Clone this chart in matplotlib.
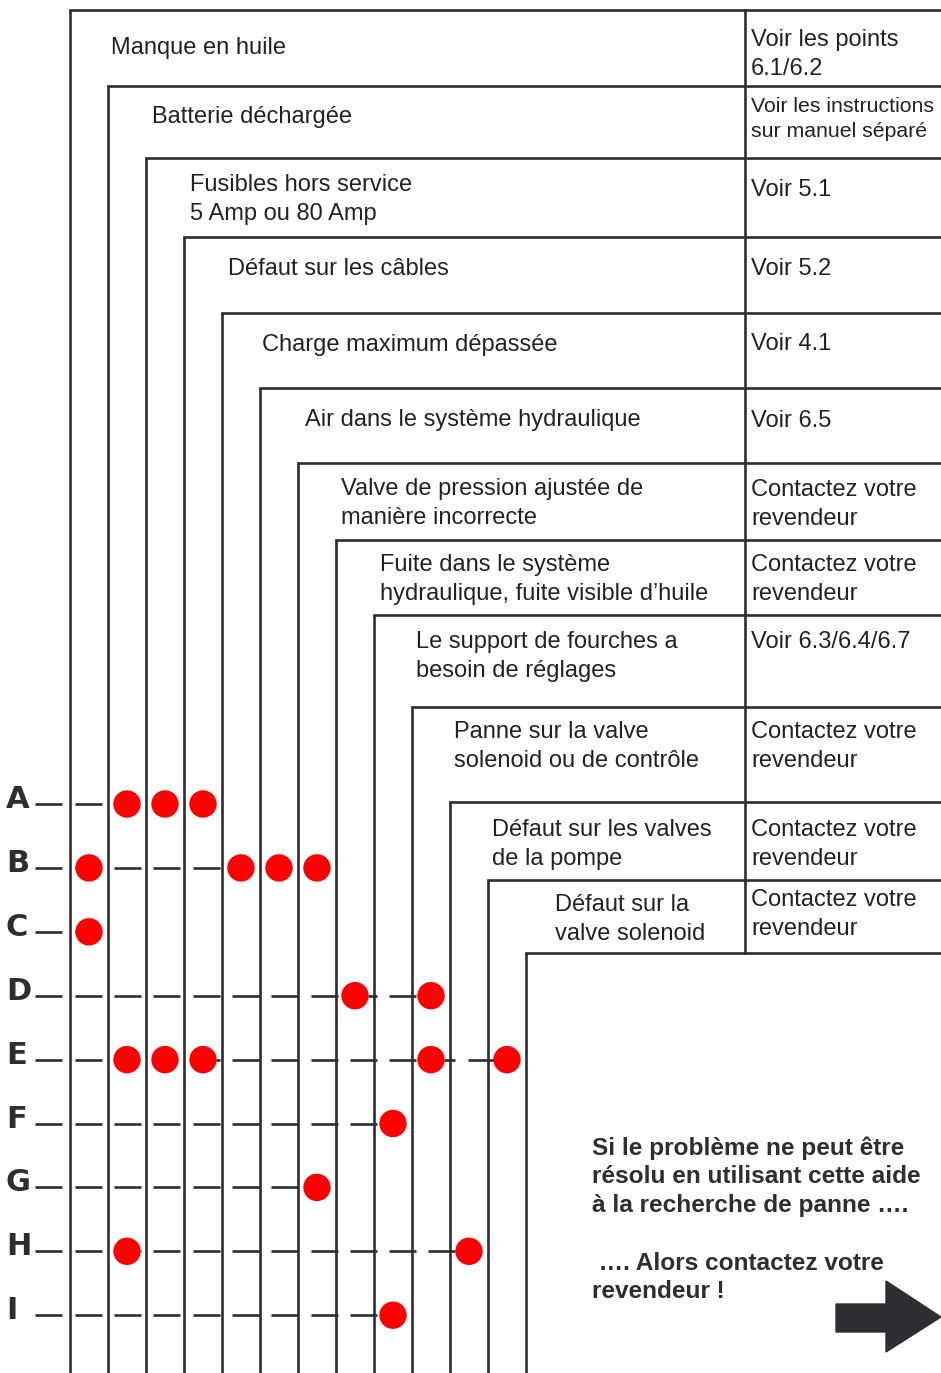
import numpy as np
import matplotlib.pyplot as plt
from matplotlib.patches import Circle, Polygon

# problem boxes (left text) and what to do (right column)
problems = [
    "Manque en huile",
    "Batterie déchargée",
    "Fusibles hors service\n5 Amp ou 80 Amp",
    "Défaut sur les câbles",
    "Charge maximum dépassée",
    "Air dans le système hydraulique",
    "Valve de pression ajustée de\nmanière incorrecte",
    "Fuite dans le système\nhydraulique, fuite visible d’huile",
    "Le support de fourches a\nbesoin de réglages",
    "Panne sur la valve\nsolenoid ou de contrôle",
    "Défaut sur les valves\nde la pompe",
    "Défaut sur la\nvalve solenoid",
]
remedies = [
    "Voir les points\n6.1/6.2",
    "Voir les instructions\nsur manuel séparé",
    "Voir 5.1",
    "Voir 5.2",
    "Voir 4.1",
    "Voir 6.5",
    "Contactez votre\nrevendeur",
    "Contactez votre\nrevendeur",
    "Voir 6.3/6.4/6.7",
    "Contactez votre\nrevendeur",
    "Contactez votre\nrevendeur",
    "Contactez votre\nrevendeur",
]

# symptoms and the problem columns marked for each one
symptoms = ["A", "B", "C", "D", "E", "F", "G", "H", "I"]
marks = [
    [1, 2, 3],
    [0, 4, 5, 6],
    [0],
    [7, 9],
    [1, 2, 3, 9, 11],
    [8],
    [6],
    [1, 10],
    [8],
]

footer = ("Si le problème ne peut être\nrésolu en utilisant cette aide\n"
          "à la recherche de panne ….\n\n …. Alors contactez votre\nrevendeur !")

# layout (pixels)
W, H = 941, 1373
ink = "#2d2d32"
lw = 1.9
x0, step = 70, 38
box_edges = [10, 86, 158, 237, 313, 388, 463, 540, 615, 707, 802, 880, 953]
indent = [41, 44, 44, 44, 40, 45, 43, 44, 42, 42, 42, 67]
left_dy = [27, 20, 16, 21, 21, 21, 15, 14, 16, 14, 17, 14]
right_dy = [19, 11, 21, 21, 20, 22, 16, 14, 16, 14, 17, 9]
col_div = 745
row_y0, row_step = 804, 63.9
dot_r = 13

fig = plt.figure(figsize=(W / 100, H / 100), dpi=100)
ax = fig.add_axes([0, 0, 1, 1])
ax.set_xlim(0, W)
ax.set_ylim(H, 0)
ax.axis("off")

n = len(problems)
xs = x0 + step * np.arange(n + 1)

for j in range(n + 1):
    ax.plot([xs[j], xs[j]], [box_edges[j], H], color=ink, lw=lw, solid_capstyle="butt")
    ax.plot([xs[j], W], [box_edges[j], box_edges[j]], color=ink, lw=lw, solid_capstyle="projecting")
ax.plot([col_div, col_div], [box_edges[0], box_edges[-1]], color=ink, lw=lw)

for j in range(n):
    ax.text(xs[j] + indent[j], box_edges[j] + left_dy[j], problems[j], fontsize=17,
            family="Liberation Sans", color="#222226", va="top", ha="left", linespacing=1.42)
    fs = 15.3 if j == 1 else 17
    ax.text(col_div + 6, box_edges[j] + right_dy[j], remedies[j], fontsize=fs,
            family="Liberation Sans", color="#222226", va="top", ha="left", linespacing=1.42)

centers = (xs[:-1] + xs[1:]) / 2
dash_start, dash_period, dash_len = 35.5, 39.3, 27

for i, lab in enumerate(symptoms):
    y = row_y0 + row_step * i
    ax.text(6, y + 4, lab, fontsize=22, family="DejaVu Sans", fontweight="heavy",
            color=ink, va="baseline", ha="left")
    cx = sorted(centers[c] for c in marks[i])
    gaps = []
    prev = dash_start
    for c in cx:
        if c - dot_r - prev > 15:
            gaps.append((prev, c - dot_r))
        prev = c + dot_r
    for a, b in gaps:
        k0 = int(np.floor((a - dash_start) / dash_period))
        k1 = int(np.ceil((b - dash_start) / dash_period))
        for k in range(k0, k1 + 1):
            s = dash_start + k * dash_period
            e = s + dash_len
            s, e = max(s, a), min(e, b)
            if e - s > 1:
                ax.plot([s, e], [y, y], color=ink, lw=lw, solid_capstyle="butt")
    for c in cx:
        ax.add_patch(Circle((c, y), dot_r, color="#ff0000", zorder=5))

ax.text(592, 1136, footer, fontsize=17.6, family="Liberation Sans", fontweight="bold",
        color=ink, va="top", ha="left", linespacing=1.32)

arrow = [(836, 1304), (886, 1304), (886, 1281), (941, 1317),
         (886, 1352), (886, 1332), (836, 1332)]
ax.add_patch(Polygon(arrow, closed=True, color=ink))

fig.savefig("out.png", dpi=100)
